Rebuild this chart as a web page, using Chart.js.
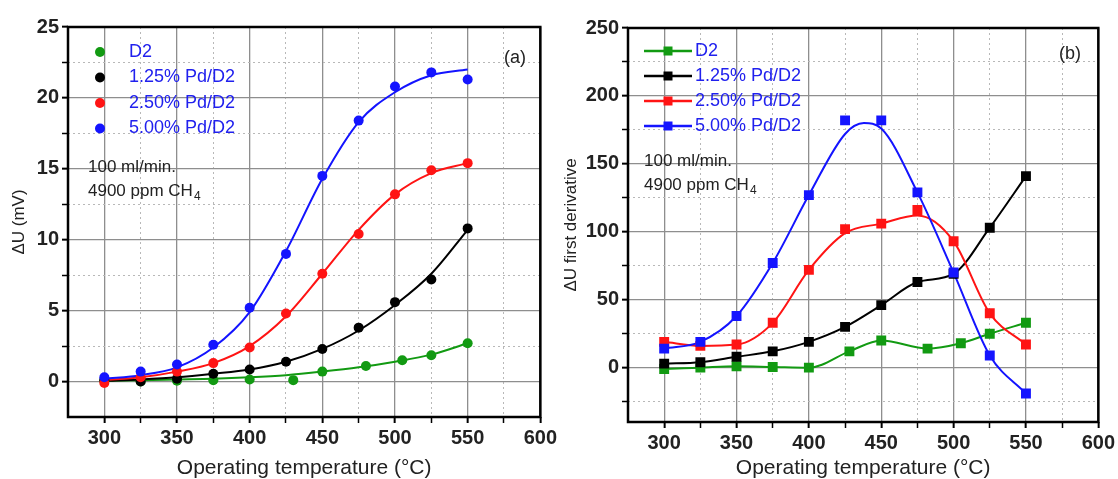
<!DOCTYPE html>
<html>
<head>
<meta charset="utf-8">
<title>Sensor response vs operating temperature</title>
<script src="https://cdn.jsdelivr.net/npm/chart.js@4.4.1/dist/chart.umd.min.js"></script>
<style>
  body { margin: 0; background: #fff; }
  #wrap { position: relative; width: 1118px; height: 479px; }
  #chartA { position: absolute; left: 0; top: 0; }
  #chartB { position: absolute; left: 560px; top: 0; }
</style>
</head>
<body>
<div id="wrap">
  <canvas id="chartA" width="560" height="479"></canvas>
  <canvas id="chartB" width="558" height="479"></canvas>
</div>
<script>
// Series (same in both panels)
var seriesNames = ['D2', '1.25% Pd/D2', '2.50% Pd/D2', '5.00% Pd/D2'];
var seriesColors = ['#129a12', '#000000', '#ff1414', '#1414ff'];

// Temperatures (°C)
var temps = [300, 325, 350, 375, 400, 425, 450, 475, 500, 525, 550];
var tempsD2a = [300, 325, 350, 375, 400, 430, 450, 480, 505, 525, 550];
var tempsD2b = [300, 325, 350, 375, 400, 428, 450, 482, 505, 525, 550];
var tempsFitB = [300, 325, 350, 375, 400, 425, 438, 450, 475, 500, 525, 550];

// Panel (a): measured dU (mV)
var aD2 = [0.05, 0.0, 0.05, 0.1, 0.15, 0.1, 0.7, 1.1, 1.5, 1.85, 2.7];
var aPd125 = [0.1, 0.0, 0.2, 0.55, 0.85, 1.4, 2.3, 3.8, 5.6, 7.2, 10.8];
var aPd250 = [-0.1, 0.3, 0.7, 1.3, 2.4, 4.8, 7.6, 10.4, 13.2, 14.9, 15.4];
var aPd500 = [0.3, 0.7, 1.2, 2.6, 5.2, 9.0, 14.5, 18.4, 20.8, 21.8, 21.3];

// Panel (a): fitted curves, read at the same temperatures
var aFitD2 = [0.05, 0.1, 0.15, 0.2, 0.3, 0.45, 0.7, 1.0, 1.4, 1.9, 2.7];
var aFitPd125 = [0.05, 0.15, 0.3, 0.55, 0.85, 1.4, 2.3, 3.6, 5.4, 7.6, 10.7];
var aFitPd250 = [0.1, 0.3, 0.7, 1.3, 2.5, 4.6, 7.6, 10.7, 13.2, 14.7, 15.4];
var aFitPd500 = [0.2, 0.45, 1.0, 2.4, 4.9, 9.2, 14.3, 18.3, 20.4, 21.6, 22.0];

// Panel (b): first derivative of dU
var bD2 = [-1, 0, 1, 0.5, 0, 12, 20, 14, 18, 25, 33];
var bPd125 = [3, 4, 8, 12, 19, 30, 46, 63, 69, 103, 141];
var bPd250 = [19, 16, 17, 33, 72, 102, 106, 116, 93, 40, 17];
var bPd500 = [14, 19, 38, 77, 127, 182, 182, 129, 70, 9, -19];

// Panel (b): drawn curves where they leave the points
var bFitPd250 = [19, 16, 17, 33, 72, 99, 106, 112, 93, 40, 17];
var bFitPd500 = [14, 19, 38, 77, 127, 172, 180, 176, 129, 70, 9, -19];

// Tick values
var xTicks = [300, 325, 350, 375, 400, 425, 450, 475, 500, 525, 550, 575, 600];
var yTicksA = [0, 2.5, 5, 7.5, 10, 12.5, 15, 17.5, 20, 22.5, 25];
var yTicksB = [-25, 0, 25, 50, 75, 100, 125, 150, 175, 200, 225, 250];

var FONT = '"Liberation Sans", Arial, sans-serif';

function pairs(xs, ys) {
    return xs.map(function (x, i) { return { x: x, y: ys[i] }; });
}

function isMajor(c, step) {
    if (!c.tick) return true;
    var r = c.tick.value / step;
    return Math.abs(r - Math.round(r)) < 1e-6;
}

function gridOpts(step) {
    return {
        color: function (c) { return isMajor(c, step) ? '#8e8e8e' : '#b8b8b8'; },
        lineWidth: function (c) { return isMajor(c, step) ? 1.3 : 1; },
        drawTicks: true,
        tickLength: 6,
        tickColor: '#000',
        tickWidth: function (c) { return isMajor(c, step) ? 2 : 1.5; }
    };
}

function borderOpts(step) {
    return {
        display: false,
        dash: function (c) { return (c.tick && !isMajor(c, step)) ? [2, 3] : []; }
    };
}

function tickOpts(step) {
    return {
        autoSkip: false,
        maxRotation: 0,
        padding: 3,
        color: '#222',
        font: { family: FONT, size: 20, weight: 'bold' },
        callback: function (v) { return isMajor({ tick: { value: v } }, step) ? String(v) : ''; }
    };
}

// Frame, legend and notes drawn on top of the chart area
var notesPlugin = {
    id: 'panelNotes',
    afterDraw: function (chart, args, o) {
        var ctx = chart.ctx;
        var area = chart.chartArea;
        ctx.save();
        ctx.strokeStyle = '#000';
        ctx.lineWidth = 2.5;
        ctx.strokeRect(area.left, area.top, area.right - area.left, area.bottom - area.top);

        ctx.textAlign = 'left';
        ctx.textBaseline = 'middle';
        ctx.font = '18px ' + FONT;
        seriesNames.forEach(function (name, i) {
            var y = o.legendTop + i * o.legendStep;
            var color = seriesColors[i];
            ctx.fillStyle = color;
            if (o.legendLine) {
                ctx.strokeStyle = color;
                ctx.lineWidth = 2.5;
                ctx.beginPath();
                ctx.moveTo(o.lineFrom, y);
                ctx.lineTo(o.lineTo, y);
                ctx.stroke();
                ctx.fillRect(o.markerX - 4.5, y - 4.5, 9, 9);
            } else {
                ctx.beginPath();
                ctx.arc(o.markerX, y, 5, 0, Math.PI * 2);
                ctx.fill();
            }
            ctx.fillStyle = '#2020ee';
            ctx.fillText(name, o.textX, y);
        });

        ctx.fillStyle = '#222';
        ctx.font = '17px ' + FONT;
        ctx.fillText('100 ml/min.', o.noteX, o.noteY1);
        var gas = '4900 ppm CH';
        ctx.fillText(gas, o.noteX, o.noteY2);
        var w = ctx.measureText(gas).width;
        ctx.font = '12px ' + FONT;
        ctx.fillText('4', o.noteX + w + 1, o.noteY2 + 6);

        ctx.font = '18px ' + FONT;
        ctx.textAlign = 'center';
        ctx.fillText(o.tag, o.tagX, o.tagY);
        ctx.restore();
    }
};

function markerSet(xs, ys, i, style, radius) {
    return {
        label: seriesNames[i],
        data: pairs(xs, ys),
        showLine: false,
        pointStyle: style,
        pointRadius: radius,
        pointBackgroundColor: seriesColors[i],
        pointBorderWidth: 0,
        order: 1
    };
}

function curveSet(xs, ys, i) {
    return {
        data: pairs(xs, ys),
        borderColor: seriesColors[i],
        borderWidth: 2,
        pointRadius: 0,
        cubicInterpolationMode: 'monotone',
        fill: false,
        order: 2
    };
}

function makePanel(canvasId, p) {
    return new Chart(document.getElementById(canvasId), {
        type: 'line',
        data: { datasets: p.datasets },
        options: {
            responsive: false,
            animation: false,
            devicePixelRatio: 1,
            layout: { padding: p.padding },
            plugins: {
                legend: { display: false },
                tooltip: { enabled: false },
                panelNotes: p.notes
            },
            scales: {
                x: {
                    type: 'linear',
                    min: 275,
                    max: 600,
                    afterBuildTicks: function (s) { s.ticks = xTicks.map(function (v) { return { value: v }; }); },
                    afterFit: function (s) { s.height = p.xAxisHeight; },
                    ticks: tickOpts(50),
                    grid: gridOpts(50),
                    border: borderOpts(50),
                    title: {
                        display: true,
                        text: 'Operating temperature (°C)',
                        color: '#222',
                        font: { family: FONT, size: 21, lineHeight: 1 },
                        padding: { top: 0, bottom: 0.5 }
                    }
                },
                y: {
                    type: 'linear',
                    min: p.yMin,
                    max: p.yMax,
                    afterBuildTicks: function (s) { s.ticks = p.yTicks.map(function (v) { return { value: v }; }); },
                    afterFit: function (s) { s.width = p.yAxisWidth; },
                    ticks: tickOpts(p.yMajor),
                    grid: gridOpts(p.yMajor),
                    border: borderOpts(p.yMajor),
                    title: {
                        display: true,
                        text: p.yTitle,
                        color: '#222',
                        font: { family: FONT, size: 17, lineHeight: 1 },
                        padding: { top: p.yTitlePad, bottom: 0 }
                    }
                }
            }
        },
        plugins: [notesPlugin]
    });
}

makePanel('chartA', {
    padding: { left: 0, right: 17, top: 27, bottom: 0 },
    xAxisHeight: 62,
    yAxisWidth: 68,
    yMin: -2.5,
    yMax: 25,
    yMajor: 5,
    yTicks: yTicksA,
    yTitle: 'ΔU (mV)',
    yTitlePad: 11,
    datasets: [
        markerSet(temps, aPd500, 3, 'circle', 5),
        markerSet(temps, aPd250, 2, 'circle', 5),
        markerSet(temps, aPd125, 1, 'circle', 5),
        markerSet(tempsD2a, aD2, 0, 'circle', 5),
        curveSet(temps, aFitPd500, 3),
        curveSet(temps, aFitPd250, 2),
        curveSet(temps, aFitPd125, 1),
        curveSet(temps, aFitD2, 0)
    ],
    notes: {
        legendLine: false, legendTop: 52, legendStep: 25.5, markerX: 100, textX: 129,
        noteX: 88, noteY1: 167, noteY2: 191,
        tag: '(a)', tagX: 515, tagY: 58
    }
});

makePanel('chartB', {
    padding: { left: 0, right: 18, top: 28, bottom: 0 },
    xAxisHeight: 57,
    yAxisWidth: 68,
    yMin: -40,
    yMax: 250,
    yMajor: 50,
    yTicks: yTicksB,
    yTitle: 'ΔU first derivative',
    yTitlePad: 3,
    datasets: [
        markerSet(temps, bPd500, 3, 'rect', 7),
        markerSet(temps, bPd250, 2, 'rect', 7),
        markerSet(temps, bPd125, 1, 'rect', 7),
        markerSet(tempsD2b, bD2, 0, 'rect', 7),
        curveSet(tempsFitB, bFitPd500, 3),
        curveSet(temps, bFitPd250, 2),
        curveSet(temps, bPd125, 1),
        curveSet(tempsD2b, bD2, 0)
    ],
    notes: {
        legendLine: true, legendTop: 51, legendStep: 25, lineFrom: 84, lineTo: 132, markerX: 108, textX: 135,
        noteX: 84, noteY1: 161, noteY2: 185,
        tag: '(b)', tagX: 510, tagY: 54
    }
});
</script>
</body>
</html>
